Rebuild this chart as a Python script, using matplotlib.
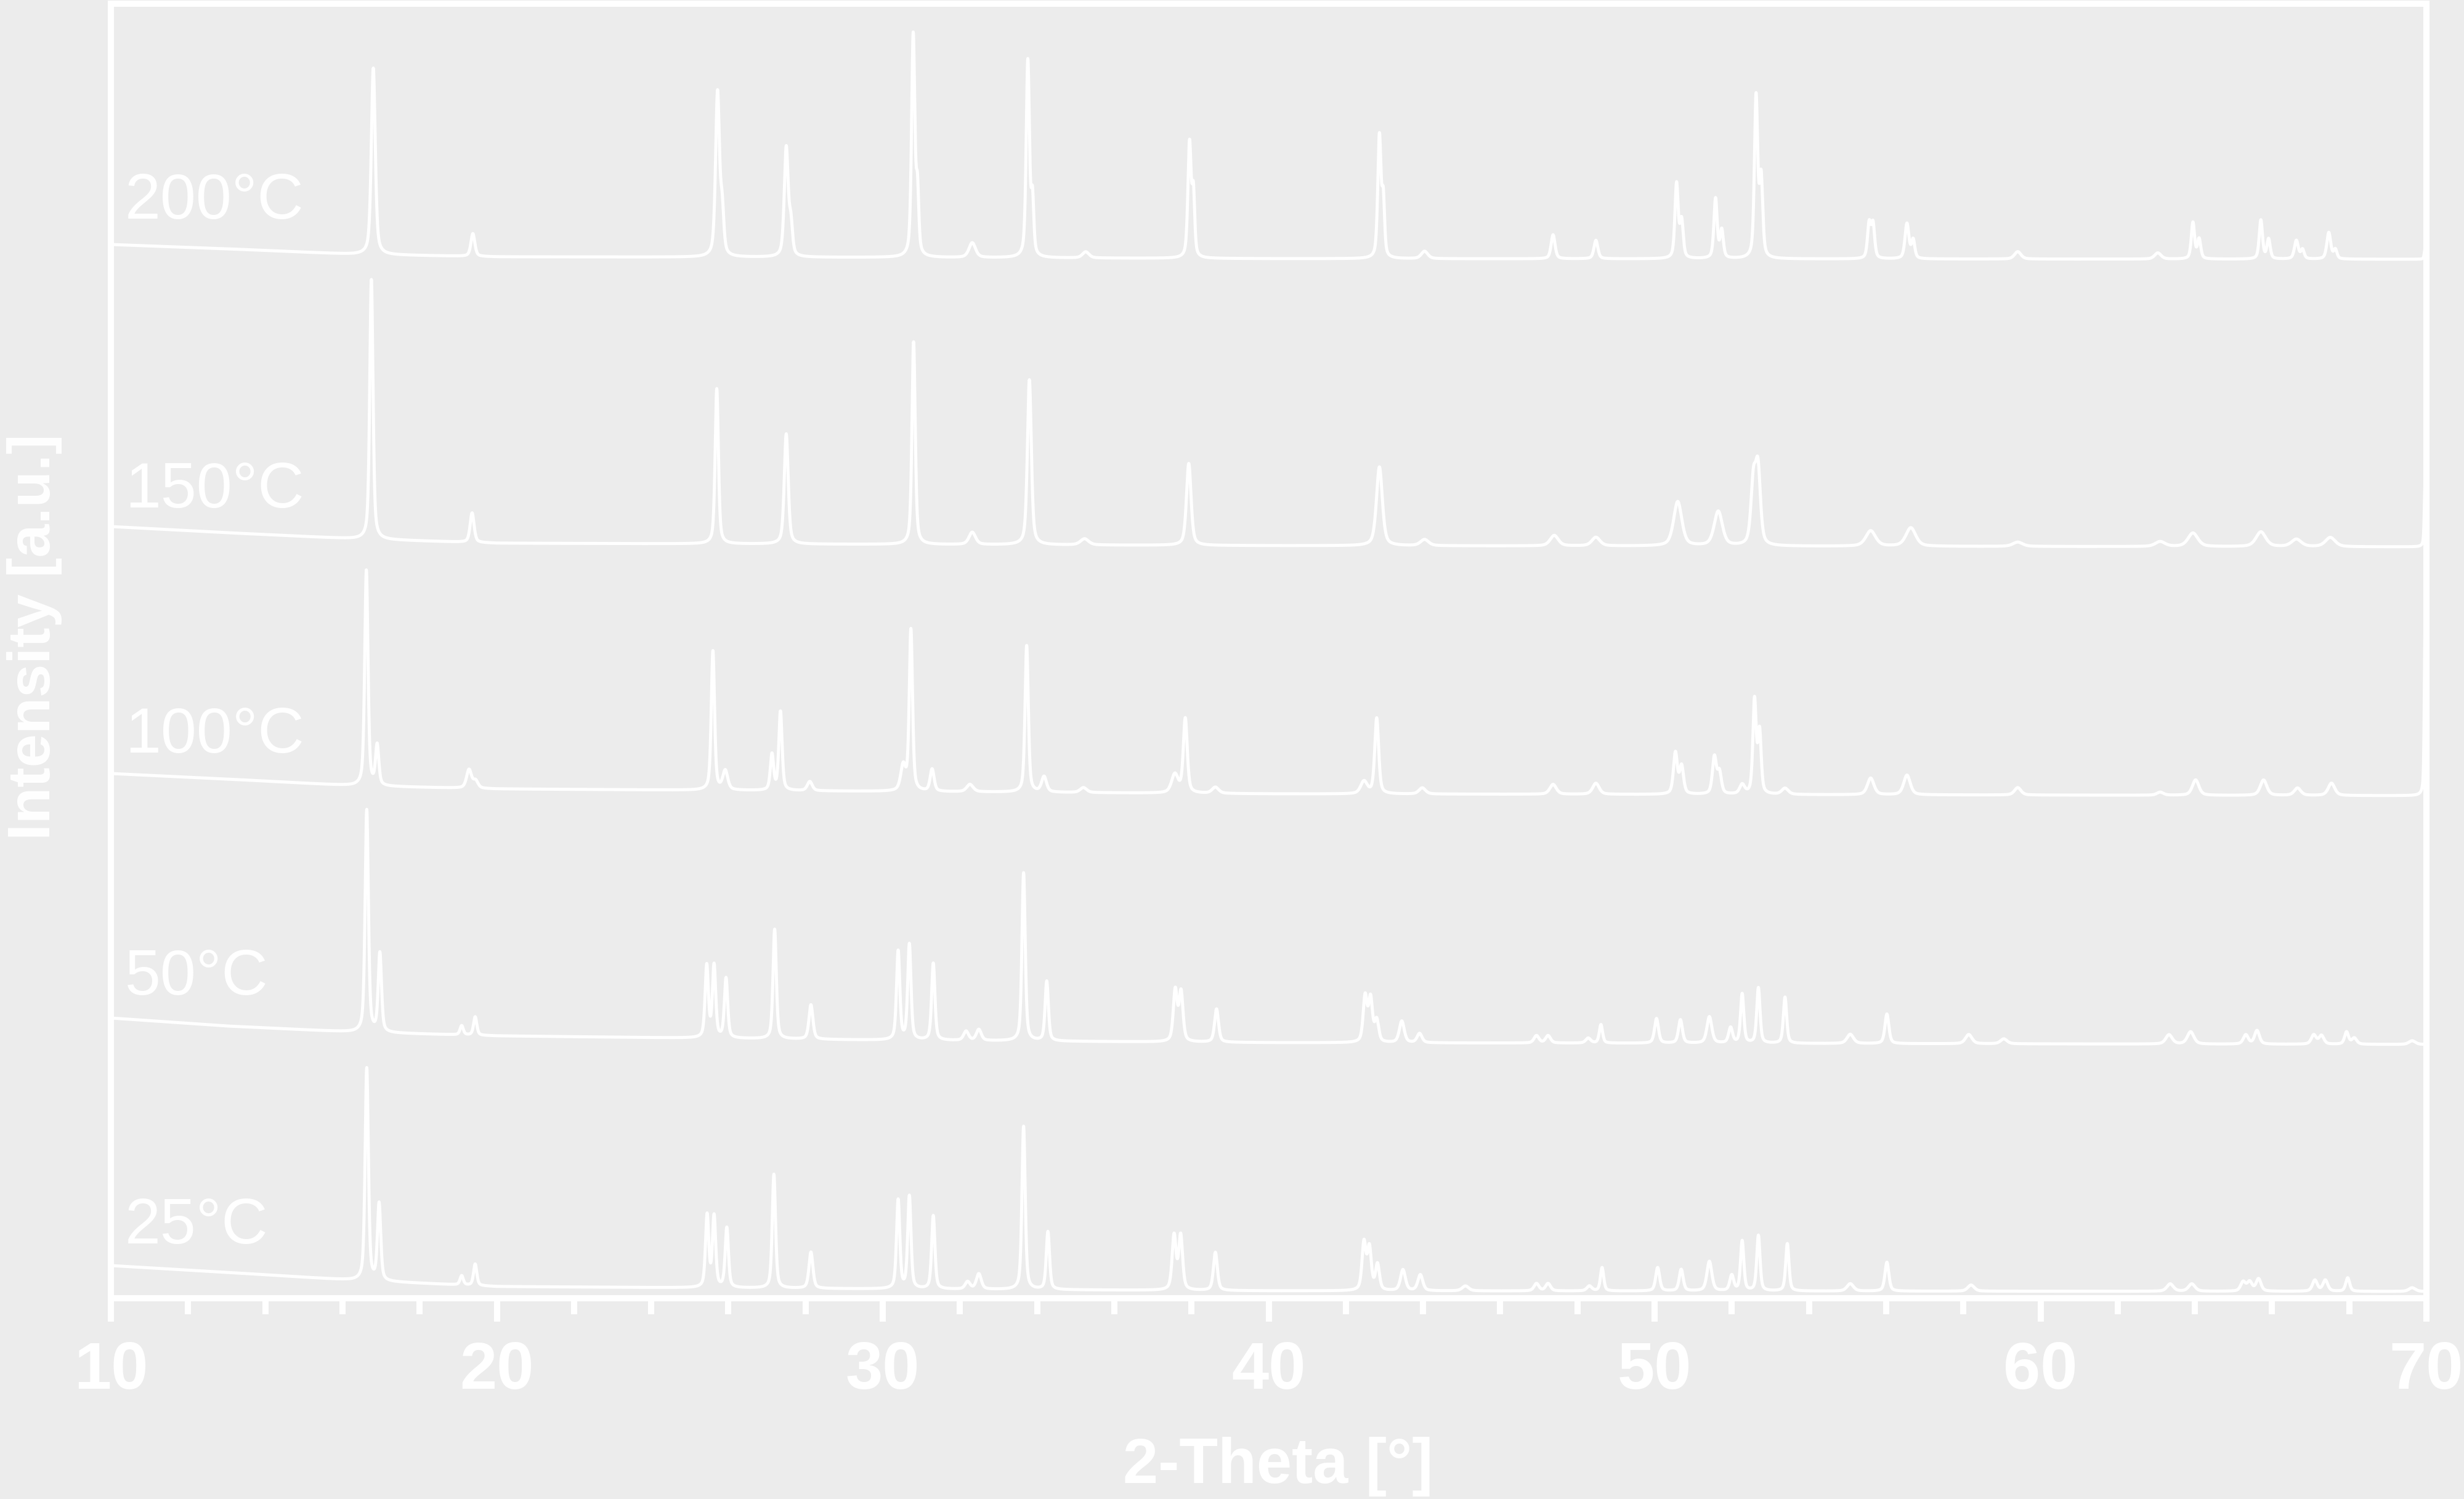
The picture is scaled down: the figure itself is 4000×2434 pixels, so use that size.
import numpy as np
import matplotlib
matplotlib.use("Agg")
import matplotlib.pyplot as plt
from matplotlib.ticker import MultipleLocator

plt.rcParams['font.family'] = ['Liberation Sans', 'DejaVu Sans']

BG_COLOR = '#ececec'
FG_COLOR = 'white'

# x range of the scan
TWO_THETA_MIN, TWO_THETA_MAX = 10, 70

# background anchors (2-theta, intensity incl. stacking offset)
bg_angles = [10, 13, 16.3, 20, 30, 40, 70]
bg_25 = [52, 41, 28, 18, 14, 11, 10]
bg_50 = [454, 441, 431, 425, 418, 414, 411]
bg_100 = [851, 842, 831, 826, 822, 818, 815]
bg_150 = [1252, 1242, 1232, 1225, 1223, 1221, 1219]
bg_200 = [1710, 1703, 1694, 1690, 1689, 1687, 1686]

# reflections: (2-theta, height above background, fwhm)
peaks_25 = [
    (16.63, 345, 0.10), (16.95, 125, 0.10), (19.09, 15, 0.10), (19.44, 35, 0.10),
    (25.45, 117, 0.10), (25.63, 115, 0.10), (25.96, 97, 0.10), (27.18, 185, 0.10),
    (28.14, 59, 0.12), (30.40, 144, 0.10), (30.69, 150, 0.10), (31.31, 119, 0.10),
    (32.20, 12, 0.15), (32.49, 25, 0.15), (33.65, 265, 0.10), (34.28, 94, 0.10),
    (37.55, 88, 0.12), (37.72, 88, 0.12), (38.62, 62, 0.12), (42.47, 77, 0.12),
    (42.61, 68, 0.12), (42.82, 42, 0.12), (43.48, 34, 0.15), (43.93, 26, 0.15),
    (45.10, 8, 0.20), (46.94, 12, 0.15), (47.24, 12, 0.15), (48.31, 8, 0.15),
    (48.64, 38, 0.10), (50.08, 38, 0.12), (50.69, 35, 0.12), (51.42, 48, 0.15),
    (52.00, 25, 0.12), (52.27, 81, 0.10), (52.69, 90, 0.10), (53.44, 77, 0.10),
    (55.07, 12, 0.20), (56.02, 47, 0.12), (58.20, 10, 0.20), (63.36, 12, 0.20),
    (63.92, 12, 0.20), (65.25, 15, 0.15), (65.42, 15, 0.15), (65.65, 20, 0.15),
    (67.11, 18, 0.15), (67.38, 18, 0.15), (67.96, 22, 0.12), (69.63, 6, 0.20),
]
peaks_50 = [
    (16.63, 361, 0.10), (16.97, 128, 0.10), (19.09, 15, 0.10), (19.44, 30, 0.10),
    (25.44, 117, 0.10), (25.63, 117, 0.10), (25.94, 97, 0.10), (27.20, 178, 0.10),
    (28.14, 56, 0.12), (30.40, 144, 0.10), (30.69, 155, 0.10), (31.31, 125, 0.10),
    (32.16, 15, 0.15), (32.49, 18, 0.15), (33.65, 273, 0.10), (34.25, 97, 0.10),
    (37.58, 83, 0.12), (37.73, 80, 0.12), (38.65, 54, 0.12), (42.50, 74, 0.12),
    (42.64, 70, 0.12), (42.80, 35, 0.12), (43.45, 35, 0.15), (43.91, 15, 0.15),
    (46.94, 12, 0.15), (47.24, 12, 0.15), (48.28, 8, 0.15), (48.61, 30, 0.10),
    (50.05, 40, 0.12), (50.67, 38, 0.12), (51.42, 43, 0.15), (51.97, 25, 0.12),
    (52.27, 80, 0.10), (52.69, 90, 0.10), (53.38, 75, 0.10), (55.07, 15, 0.20),
    (56.02, 48, 0.12), (58.14, 15, 0.20), (59.05, 8, 0.20), (63.33, 15, 0.20),
    (63.89, 20, 0.20), (65.32, 15, 0.15), (65.61, 22, 0.15), (67.08, 15, 0.15),
    (67.28, 14, 0.15), (67.93, 20, 0.12), (68.13, 10, 0.15), (69.63, 6, 0.20),
]
peaks_100 = [
    (16.62, 350, 0.10), (16.90, 65, 0.10), (19.28, 30, 0.15), (19.45, 12, 0.15),
    (25.60, 226, 0.10), (25.92, 31, 0.15), (27.13, 58, 0.10), (27.35, 128, 0.10),
    (28.11, 15, 0.15), (30.53, 40, 0.15), (30.73, 262, 0.10), (31.28, 36, 0.12),
    (32.26, 12, 0.20), (33.73, 238, 0.10), (34.18, 25, 0.15), (35.20, 8, 0.20),
    (37.57, 30, 0.20), (37.84, 121, 0.12), (38.62, 10, 0.20), (42.47, 20, 0.20),
    (42.80, 123, 0.12), (43.98, 10, 0.20), (47.37, 16, 0.20), (48.48, 18, 0.20),
    (50.54, 67, 0.12), (50.70, 45, 0.12), (51.55, 60, 0.12), (51.68, 35, 0.12),
    (52.27, 15, 0.15), (52.59, 152, 0.10), (52.72, 100, 0.10), (53.38, 10, 0.20),
    (55.60, 27, 0.20), (56.54, 32, 0.20), (59.41, 12, 0.20), (63.10, 5, 0.20),
    (64.02, 25, 0.20), (65.78, 25, 0.20), (66.66, 12, 0.20), (67.54, 20, 0.20),
    (69.97, 320, 0.05),
]
peaks_150 = [
    (16.75, 422, 0.10), (19.36, 48, 0.12), (25.70, 252, 0.10), (27.50, 179, 0.12),
    (30.80, 329, 0.10), (32.32, 20, 0.20), (33.80, 268, 0.12), (35.23, 10, 0.25),
    (37.93, 133, 0.14), (42.87, 128, 0.18), (44.04, 10, 0.25), (47.40, 17, 0.25),
    (48.48, 14, 0.25), (50.60, 72, 0.25), (51.65, 56, 0.25), (52.56, 100, 0.15),
    (52.68, 120, 0.15), (55.60, 25, 0.30), (56.64, 30, 0.30), (59.41, 7, 0.30),
    (63.10, 8, 0.30), (63.95, 22, 0.30), (65.71, 24, 0.30), (66.63, 12, 0.30),
    (67.51, 15, 0.30), (69.97, 120, 0.05),
]
peaks_200 = [
    (16.80, 303, 0.12), (19.38, 37, 0.12), (25.72, 266, 0.12), (25.84, 70, 0.10),
    (27.50, 177, 0.12), (27.62, 50, 0.10), (30.79, 360, 0.10), (30.90, 100, 0.08),
    (32.32, 24, 0.20), (33.76, 319, 0.10), (33.88, 90, 0.08), (35.26, 10, 0.20),
    (37.95, 186, 0.10), (38.05, 100, 0.08), (42.87, 198, 0.10), (42.97, 90, 0.08),
    (44.04, 12, 0.20), (47.37, 39, 0.12), (48.48, 30, 0.12), (50.57, 121, 0.10),
    (50.70, 60, 0.10), (51.58, 97, 0.10), (51.74, 45, 0.10), (52.63, 261, 0.10),
    (52.76, 127, 0.10), (55.56, 56, 0.10), (55.66, 55, 0.10), (56.54, 57, 0.12),
    (56.70, 30, 0.10), (59.41, 12, 0.20), (63.04, 10, 0.20), (63.95, 59, 0.10),
    (64.11, 32, 0.10), (65.71, 63, 0.10), (65.91, 32, 0.10), (66.63, 30, 0.12),
    (66.79, 15, 0.10), (67.47, 43, 0.12), (67.64, 15, 0.10), (69.97, 20, 0.05),
]

temp_labels = ['25°C', '50°C', '100°C', '150°C', '200°C']
label_y = [88, 492, 885, 1283, 1752]
label_x = 10.37

series = [
    (bg_25, peaks_25),
    (bg_50, peaks_50),
    (bg_100, peaks_100),
    (bg_150, peaks_150),
    (bg_200, peaks_200),
]


def pattern(two_theta, bg, peaks):
    y = np.interp(two_theta, bg_angles, bg)
    for pos, h, fwhm in peaks:
        d = (two_theta - pos) / (fwhm / 2)
        y += h * (0.5 / (1 + d ** 2) + 0.5 * np.exp(-np.log(2) * d ** 2))
    return y


two_theta = np.arange(TWO_THETA_MIN, TWO_THETA_MAX + 0.001, 0.005)

W, H = 4000, 2434
fig = plt.figure(figsize=(20, 12.17), dpi=200, facecolor=BG_COLOR)
ax = fig.add_axes([180 / W, (H - 2108) / H, (3939 - 180) / W, (2108 - 6) / H])
ax.set_facecolor(BG_COLOR)

for bg, peaks in series:
    ax.plot(two_theta, pattern(two_theta, bg, peaks), color=FG_COLOR, lw=1.8)

for lab, yy in zip(temp_labels, label_y):
    ax.text(label_x, yy, lab, color=FG_COLOR, fontsize=37.5, ha='left', va='baseline')

ax.set_xlim(TWO_THETA_MIN, TWO_THETA_MAX)
ax.set_ylim(-1, 2101)
ax.set_yticks([])

for sp in ax.spines.values():
    sp.set_color(FG_COLOR)
    sp.set_linewidth(3.6)

ax.xaxis.set_major_locator(MultipleLocator(10))
ax.xaxis.set_minor_locator(MultipleLocator(2))
ax.tick_params(axis='x', which='major', direction='out', length=13.7, width=3.6,
               color=FG_COLOR, labelcolor=FG_COLOR, labelsize=39, pad=11)
ax.tick_params(axis='x', which='minor', direction='out', length=9.4, width=3.6,
               color=FG_COLOR)
for t in ax.get_xticklabels():
    t.set_fontweight('bold')

ax.set_xlabel('2-Theta [°]', color=FG_COLOR, fontsize=37, fontweight='bold')
ax.xaxis.set_label_coords(0.504, -0.107)
ax.set_ylabel('Intensity [a.u.]', color=FG_COLOR, fontsize=35, fontweight='bold')
ax.yaxis.set_label_coords(-0.021, 0.511)

fig.savefig('out.png', dpi=200, facecolor=BG_COLOR)
